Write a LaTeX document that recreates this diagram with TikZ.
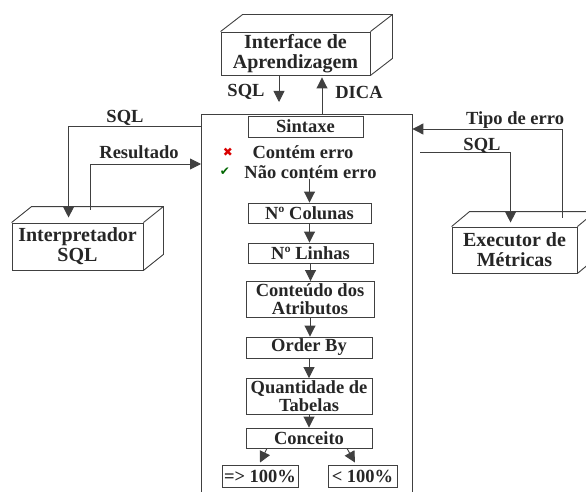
\documentclass[tikz,border=0pt]{standalone}
\usepackage{fontspec}
\setmainfont{Liberation Serif}
\newfontfamily\djv{DejaVu Sans}
\usetikzlibrary{arrows.meta,calc}
\tikzset{
 every node/.style={font=\fontsize{18.5}{18}\selectfont\bfseries, text=black!85},
 ln/.style={draw=black!75, line width=0.9pt},
 arr/.style={ln, -{Triangle[length=11pt,width=11pt]}},
 sbox/.style={ln, inner sep=0pt, align=center},
 face/.style={ln, inner sep=0pt, align=center, font=\fontsize{20}{20}\selectfont\bfseries},
 lbl/.style={inner sep=0pt},
 sym/.style={inner sep=0pt, font=\fontsize{12}{12}\selectfont\djv},
}
\begin{document}
\begin{tikzpicture}[x=1pt,y=-1pt]
\useasboundingbox (0,0) rectangle (586,492);

% main frame
\node[minimum width=211, minimum height=378, anchor=north west, inner sep=0pt] (main) at (201,114) {};
\draw[ln] (main.south west) -- (main.north west) -- (main.north east) -- (main.south east);

% 3D boxes
\node[face, minimum width=149, minimum height=43] (iface) at (295.5,53.5) {Interface de\\Aprendizagem};
\draw[ln] (iface.north west) -- ++(22,-17) -- ($(iface.north east)+(22,-17)$) -- ($(iface.south east)+(22,-17)$) -- (iface.south east)
  (iface.north east) -- ++(22,-17);

\node[face, minimum width=131, minimum height=47] (interp) at (77.5,246.5) {Interpretador\\SQL};
\draw[ln] (interp.north west) -- ++(20,-16) -- ($(interp.north east)+(20,-16)$) -- ($(interp.south east)+(20,-16)$) -- (interp.south east)
  (interp.north east) -- ++(20,-16);

\node[face, minimum width=125, minimum height=46] (exec) at (514.5,250) {Executor de\\Métricas};
\draw[ln] (exec.north west) -- ++(18,-15) -- ($(exec.north east)+(18,-15)$) -- ($(exec.south east)+(18,-15)$) -- (exec.south east)
  (exec.north east) -- ++(18,-15);

% top connectors
\coordinate (sqlx) at (279,0);
\coordinate (dicax) at (322,0);
\draw[arr, shorten >=12pt] (iface.south -| sqlx) -- (main.north -| sqlx);
\draw[arr, shorten >=2pt] (main.north -| dicax) -- (iface.south -| dicax);
\node[lbl] (lsqlt) at (246,92) {SQL};
\node[lbl] (ldica) at (359,92) {DICA};

% left connectors
\coordinate (sqlL) at (0,126);
\coordinate (res) at (0,164);
\draw[arr] (main.west |- sqlL) -| ($(interp.north west)+(57,-5)$);
\draw[arr] ($(interp.north west)+(79,-13)$) |- (main.west |- res);
\node[lbl] (lsqll) at (125,118) {SQL};
\node[lbl] (lres) at (139,152) {Resultado};

% right connectors
\coordinate (tipo) at (0,129);
\coordinate (sqlR) at (420,152);
\draw[arr] ($(exec.north west)+(111,-9)$) |- (main.east |- tipo);
\draw[arr] (sqlR) -| ($(exec.north west)+(59,-4)$);
\node[lbl] (ltipo) at (515,120) {Tipo de erro};
\node[lbl] (lsqlr) at (482,146) {SQL};

% inner flow
\node[sbox, minimum width=115, minimum height=21] (sint) at (305.5,126.5) {Sintaxe};
\node[lbl] (cont) at (303,152) {Contém erro};
\node[lbl] (nao) at (310.5,172) {Não contém erro};
\node[sym, text=red!85!black] (xm) at (228,152) {✖};
\node[sym, text=green!40!black] (ok) at (225,172) {✔};

\node[sbox, minimum width=123, minimum height=20] (col) at (309.5,213) {Nº Colunas};
\node[sbox, minimum width=125, minimum height=20] (lin) at (310.5,253) {Nº Linhas};
\node[sbox, minimum width=128, minimum height=36] (cont2) at (310,299.5) {Conteúdo dos\\Atributos};
\node[sbox, minimum width=126, minimum height=21] (ord) at (309,347.5) {Order By};
\node[sbox, minimum width=126, minimum height=36] (qt) at (309,396.5) {Quantidade de\\Tabelas};
\node[sbox, minimum width=126, minimum height=20] (conc) at (309,438) {Conceito};
\node[sbox, minimum width=76, minimum height=22] (r1) at (260,476) {=> 100\%};
\node[sbox, minimum width=69, minimum height=22] (r2) at (362.5,476) {< 100\%};

\draw[arr] (col.north |- nao.south) -- (col.north);
\draw[arr] (col.south) -- (col.south |- lin.north);
\draw[arr] (lin.south) -- (lin.south |- cont2.north);
\draw[arr] (cont2.south) -- (cont2.south |- ord.north);
\draw[arr] (ord.south) -- (ord.south |- qt.north);
\draw[arr] (qt.south) -- (qt.south |- conc.north);
\draw[arr] ($(conc.south)+(-42,0)$) -- ($(r1.north)+(0,-2)$);
\draw[arr] ($(conc.south)+(38,0)$) -- ($(r2.north)+(-7.5,-2)$);
\end{tikzpicture}
\end{document}
